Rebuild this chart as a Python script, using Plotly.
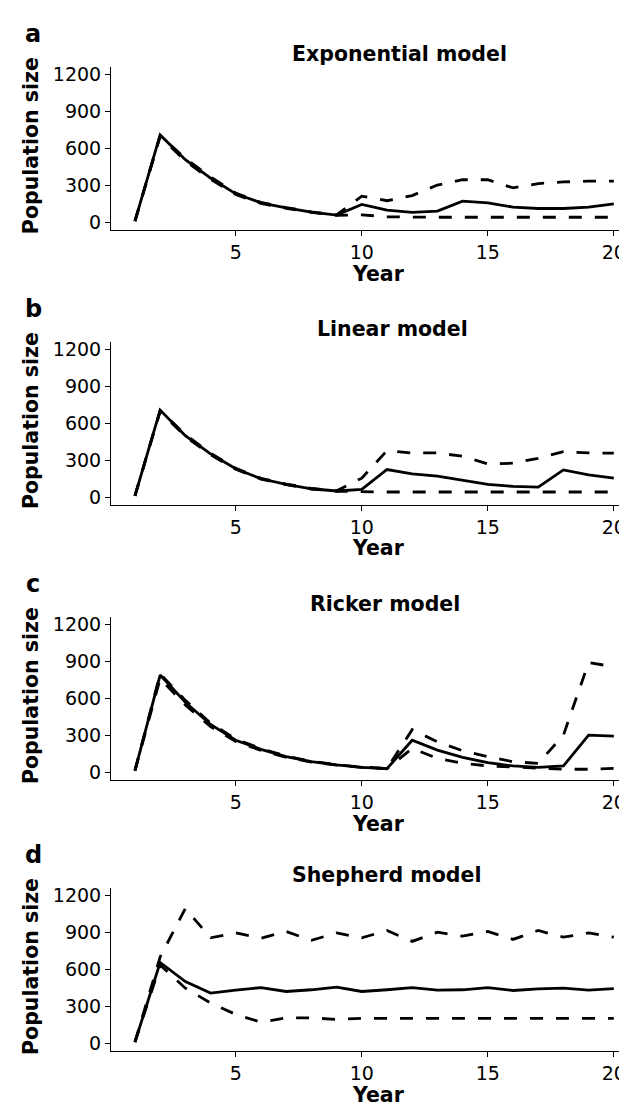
import plotly.graph_objects as go

years = list(range(1, 21))

panel_letters = ["a", "b", "c", "d"]
panel_titles = ["Exponential model", "Linear model", "Ricker model", "Shepherd model"]

exp_mean = [13, 711, 510, 362, 234, 161, 121, 86, 62, 148, 102, 83, 94, 174, 161, 126, 115, 115, 126, 153]
exp_upper = [13, 706, 520, 370, 240, 165, 123, 88, 63, 215, 178, 220, 305, 348, 348, 282, 317, 330, 336, 336]
exp_lower = [13, 700, 500, 352, 228, 156, 117, 84, 60, 64, 48, 44, 44, 44, 44, 44, 44, 44, 44, 44]

lin_mean = [15, 709, 502, 354, 234, 153, 107, 72, 54, 67, 228, 193, 174, 140, 107, 91, 86, 225, 185, 158]
lin_upper = [15, 705, 510, 360, 238, 156, 110, 75, 56, 158, 381, 362, 362, 335, 274, 279, 319, 373, 362, 360]
lin_lower = [15, 700, 495, 348, 230, 150, 105, 70, 52, 46, 46, 46, 46, 46, 46, 46, 46, 46, 46, 46]

ric_mean = [16, 790, 570, 390, 262, 188, 129, 88, 62, 43, 32, 262, 182, 123, 80, 54, 43, 54, 303, 295]
ric_upper = [16, 800, 585, 400, 272, 194, 134, 91, 64, 45, 33, 348, 249, 177, 129, 88, 75, 303, 892, 857]
ric_lower = [16, 760, 548, 372, 252, 180, 124, 85, 60, 42, 31, 196, 115, 75, 54, 43, 32, 27, 27, 35]

she_mean = [11, 656, 501, 408, 432, 453, 421, 435, 456, 421, 435, 453, 432, 435, 453, 429, 443, 448, 432, 445]
she_upper = [11, 701, 1093, 856, 896, 853, 907, 835, 896, 856, 915, 827, 901, 869, 907, 843, 915, 861, 896, 861]
she_lower = [11, 635, 448, 328, 235, 173, 208, 208, 195, 203, 203, 203, 203, 203, 203, 203, 203, 203, 203, 203]

series = [
    (exp_mean, exp_upper, exp_lower),
    (lin_mean, lin_upper, lin_lower),
    (ric_mean, ric_upper, ric_lower),
    (she_mean, she_upper, she_lower),
]

x_ticks = [5, 10, 15, 20]
y_ticks = [0, 300, 600, 900, 1200]

W, H = 627, 1106
FONT = "DejaVu Sans"

panel_top = [55.5, 332.2, 608.9, 881.5]
panel_h = 164.0
title_cx = [391, 384, 377, 378]
year_off = [44, 43.5, 44, 44]

fig = go.Figure()
layout = dict(
    width=W, height=H,
    margin=dict(l=0, r=0, t=0, b=0),
    paper_bgcolor="white", plot_bgcolor="white",
    showlegend=False,
    font=dict(family=FONT, color="black"),
)
annotations = []


def px(x):
    return x / W


def py(y):
    return 1 - y / H


for i, (mean, up, lo) in enumerate(series):
    n = "" if i == 0 else str(i + 1)
    xa, ya = "x" + n, "y" + n
    for vals, dash in ((up, "13px,13px"), (lo, "13px,13px"), (mean, "solid")):
        fig.add_trace(go.Scatter(
            x=years, y=vals, mode="lines", xaxis=xa, yaxis=ya,
            line=dict(color="black", width=2.8, dash=dash),
            hoverinfo="skip",
        ))
    top = panel_top[i]
    bot = top + panel_h
    axis_common = dict(
        showline=True, linecolor="black", linewidth=1,
        ticks="outside", ticklen=5, tickwidth=1, tickcolor="black",
        showgrid=False, zeroline=False,
        tickfont=dict(family=FONT, size=19, color="black"),
        fixedrange=True,
    )
    layout["xaxis" + n] = dict(
        domain=[px(103), 1.0], range=[0.05, 20.84], anchor=ya,
        tickvals=x_ticks, **axis_common,
    )
    layout["yaxis" + n] = dict(
        domain=[py(bot), py(top)], range=[-60, 1260], anchor=xa,
        tickvals=y_ticks, **axis_common,
    )
    annotations.append(dict(
        text="<b>%s</b>" % panel_letters[i], x=px(25), y=py(top - 33),
        xref="paper", yref="paper", xanchor="center", yanchor="middle",
        showarrow=False, font=dict(family=FONT, size=24, color="black"),
    ))
    annotations.append(dict(
        text="<b>%s</b>" % panel_titles[i], x=px(title_cx[i]), y=py(top - 13),
        xref="paper", yref="paper", xanchor="center", yanchor="middle",
        showarrow=False, font=dict(family=FONT, size=20.5, color="black"),
    ))
    annotations.append(dict(
        text="<b>Year</b>", x=px(370), y=py(bot + year_off[i]),
        xref="paper", yref="paper", xanchor="center", yanchor="middle",
        showarrow=False, font=dict(family=FONT, size=20.5, color="black"),
    ))
    annotations.append(dict(
        text="<b>Population size</b>", x=px(23), y=py(top + panel_h / 2 - 2.5),
        xref="paper", yref="paper", xanchor="center", yanchor="middle",
        textangle=-90,
        showarrow=False, font=dict(family=FONT, size=20.5, color="black"),
    ))

layout["annotations"] = annotations
fig.update_layout(**layout)
fig.write_html("out.html")
